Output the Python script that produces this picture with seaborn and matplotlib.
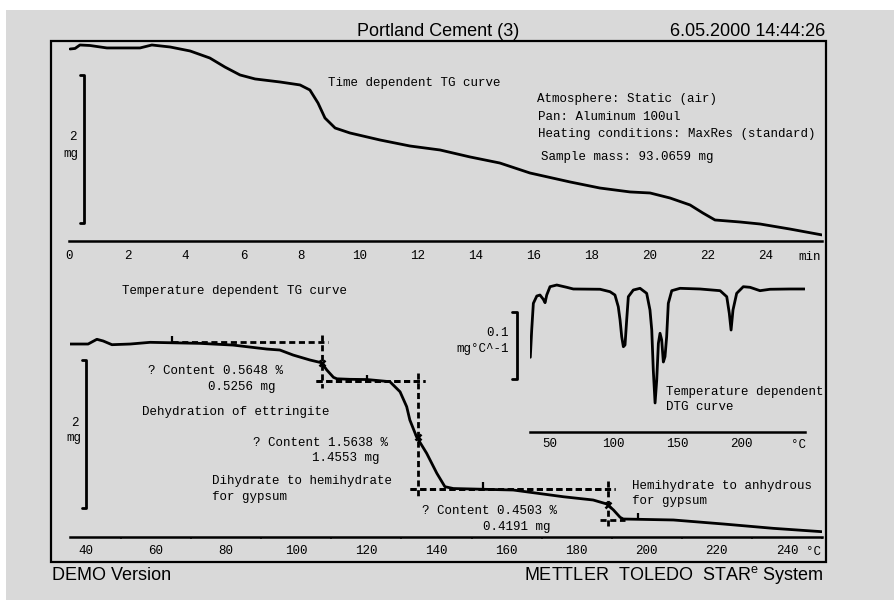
import matplotlib
matplotlib.use("Agg")
from matplotlib import pyplot as plt
from matplotlib.patches import Rectangle
from matplotlib.ticker import MultipleLocator
import seaborn as sns

W, H = 895, 600

# time dependent TG curve (min, mg)
time_min = [0.02, 0.19, 0.36, 0.71, 1.29, 2.43, 2.84, 3.47, 4.16, 4.84, 5.36, 5.88, 6.40,
            7.26, 7.95, 8.29, 8.57, 8.81, 9.16, 9.67, 10.71, 11.74, 12.78, 13.81, 14.84,
            15.88, 17.26, 18.29, 19.33, 20.02, 20.71, 21.40, 21.84, 22.26, 23.12, 23.81,
            24.84, 25.95]
time_mass_mg = [93.066, 93.073, 93.120, 93.113, 93.080, 93.080, 93.120, 93.093, 93.039,
                92.944, 92.822, 92.715, 92.661, 92.620, 92.580, 92.512, 92.336, 92.133,
                91.998, 91.931, 91.836, 91.755, 91.701, 91.607, 91.525, 91.390, 91.269,
                91.187, 91.134, 91.120, 91.052, 90.958, 90.850, 90.755, 90.728, 90.701,
                90.633, 90.553]

# temperature dependent TG curve (°C, mg)
temp_c = [35.4, 40.6, 43.1, 44.9, 47.4, 52.6, 58.3, 72.5, 81.9, 91.6, 95.3, 99.1, 103.9,
          107.2, 108.7, 110.6, 111.6, 115.3, 120.2, 126.7, 129.6, 131.5, 132.4, 134.3,
          137.2, 140.1, 142.4, 144.8, 161.9, 176.2, 184.7, 188.6, 190.5, 192.4, 193.3,
          207.6, 221.8, 236.1, 249.9]
temp_mass_mg = [93.066, 93.066, 93.130, 93.107, 93.057, 93.066, 93.089, 93.075, 93.052,
                92.998, 92.985, 92.917, 92.850, 92.813, 92.715, 92.616, 92.596, 92.589,
                92.586, 92.557, 92.421, 92.219, 92.039, 91.813, 91.589, 91.319, 91.138,
                91.113, 91.093, 91.002, 90.958, 90.904, 90.823, 90.724, 90.701, 90.688,
                90.634, 90.575, 90.530]

# temperature dependent DTG curve (°C, mg/°C)
dtg_temp_c = [34.5, 35.6, 36.9, 39.6, 42.1, 44.7, 46.1, 47.4, 50.0, 55.3, 63.1, 68.3, 89.3,
              97.1, 101.0, 103.6, 105.0, 106.3, 107.6, 108.9, 110.2, 111.5, 115.4, 120.7,
              125.9, 128.5, 129.9, 131.1, 132.5, 133.8, 135.1, 136.4, 137.7, 139.0, 140.3,
              141.6, 142.9, 145.6, 152.1, 167.8, 183.6, 188.8, 190.8, 192.2, 193.7, 196.6,
              201.8, 207.1, 214.9, 222.8, 238.5, 250.0]
dtg_value = [-0.105, -0.0647, -0.0252, -0.0144, -0.0129, -0.0192, -0.0243, -0.0129, -0.0006,
             0.0019, -0.0015, -0.0040, -0.0044, -0.0080, -0.0129, -0.0302, -0.0499, -0.0746,
             -0.0894, -0.0868, -0.0499, -0.0154, -0.0055, -0.0030, -0.0104, -0.0351, -0.0647,
             -0.1238, -0.1726, -0.1386, -0.0843, -0.0695, -0.0794, -0.1120, -0.1041, -0.0746,
             -0.0252, -0.0065, -0.0030, -0.0040, -0.0065, -0.0154, -0.0399, -0.0647, -0.0351,
             -0.0104, -0.0006, -0.0015, -0.0065, -0.0044, -0.0040, -0.0040]

# step evaluations
step_temp_c = [107.2, 134.6, 188.8]
step_upper_mg = [93.089, 92.570, 91.113]
step_lower_mg = [92.570, 91.113, 90.688]
step_upper_span = [(64.5, 109.0), (105.6, 136.7), (132.4, 190.9)]
step_lower_span = [(105.6, 136.7), (132.4, 190.9), (186.6, 193.8)]
step_inflect_mg = [92.809, 91.809, 90.890]
limit_temp_c = [64.4, 120.1, 153.2, 197.5]
limit_mass_mg = [93.134, 92.609, 91.161, 90.738]


def rect(x0, y0, x1, y1):
    return [x0 / W, 1 - y1 / H, (x1 - x0) / W, (y1 - y0) / H]


def label(x, y, s, **kw):
    kw.setdefault("fontsize", 9)
    kw.setdefault("va", "center")
    kw.setdefault("ha", "left")
    fig.text(x / W, 1 - y / H, s, color="black", **kw)


def style_axis(ax, pad, ticklen):
    ax.set_facecolor("none")
    sns.despine(ax=ax, left=True)
    ax.spines["bottom"].set_linewidth(1.8)
    ax.spines["bottom"].set_color("black")
    ax.set_yticks([])
    ax.set_xlabel("")
    ax.set_ylabel("")
    ax.tick_params(axis="x", which="major", direction="out", length=ticklen, width=1.6,
                   pad=pad, labelsize=9, colors="black")


sns.set_style("white")
plt.rcParams["font.family"] = ["Liberation Mono", "DejaVu Sans Mono"]

fig = plt.figure(figsize=(W / 100, H / 100), dpi=100, facecolor="white")
fig.patches.append(Rectangle((6 / W, 0), 1 - 6 / W, 1 - 10 / H, transform=fig.transFigure,
                             facecolor="#d9d9d9", edgecolor="none", zorder=-10))
fig.patches.append(Rectangle((51 / W, 1 - 562 / H), (826 - 51) / W, (562 - 41) / H,
                             transform=fig.transFigure, fill=False, edgecolor="black",
                             linewidth=1.6, zorder=5))

# ---- time dependent TG ----
ax_time = fig.add_axes(rect(69.5, 41, 822, 241))
sns.lineplot(x=time_min, y=time_mass_mg, ax=ax_time, color="black", linewidth=2.0)
ax_time.set_xlim(0, 25.95)
ax_time.set_ylim(90.471, 93.174)
style_axis(ax_time, pad=3.5, ticklen=3)
ax_time.set_xticks(range(0, 25, 2))
ax_time.plot([0.36, 0.5, 0.5, 0.36], [92.715, 92.715, 90.715, 90.715], color="black",
             linewidth=2.0, clip_on=False)

# ---- temperature dependent TG ----
ax_temp = fig.add_axes(rect(69.9, 300, 822, 537))
sns.lineplot(x=temp_c, y=temp_mass_mg, ax=ax_temp, color="black", linewidth=2.0)
for i, t in enumerate(step_temp_c):
    ax_temp.plot(step_upper_span[i], [step_upper_mg[i]] * 2, color="black", linewidth=2.0,
                 linestyle=(0, (2.2, 1.3)))
    ax_temp.plot(step_lower_span[i], [step_lower_mg[i]] * 2, color="black", linewidth=2.0,
                 linestyle=(0, (2.2, 1.3)))
    ax_temp.plot([t, t], [step_upper_mg[i] + 0.1, step_lower_mg[i] - 0.1], color="black",
                 linewidth=2.0, linestyle=(0, (2.2, 1.3)))
ax_temp.plot(step_temp_c, step_inflect_mg, linestyle="none", marker="x", markersize=4,
             markeredgewidth=1.8, color="black")
ax_temp.plot(limit_temp_c, limit_mass_mg, linestyle="none", marker="|", markersize=5,
             markeredgewidth=1.6, color="black")
ax_temp.set_xlim(35.4, 250)
ax_temp.set_ylim(90.458, 93.661)
style_axis(ax_temp, pad=3, ticklen=3)
ax_temp.set_xticks(range(40, 241, 20))
ax_temp.xaxis.set_minor_locator(MultipleLocator(10))
ax_temp.tick_params(axis="x", which="minor", direction="out", length=1.5, width=1.2,
                    bottom=True)
ax_temp.plot([38.9, 40.1, 40.1, 38.9], [92.85, 92.85, 90.85, 90.85], color="black",
             linewidth=2.0, clip_on=False)

# ---- DTG inset ----
ax_dtg = fig.add_axes(rect(530.3, 275, 805.3, 431.7))
sns.lineplot(x=dtg_temp_c, y=dtg_value, ax=ax_dtg, color="black", linewidth=2.0)
ax_dtg.set_xlim(34.5, 250.5)
ax_dtg.set_ylim(-0.2151, 0.0167)
style_axis(ax_dtg, pad=4.5, ticklen=0)
ax_dtg.set_xticks([50, 100, 150, 200])
ax_dtg.plot([20.2, 23.85, 23.85, 20.2], [-0.0376, -0.0376, -0.1376, -0.1376],
            color="black", linewidth=2.0, clip_on=False)

# ---- texts ----
sans = "Liberation Sans"
label(438, 36, "Portland Cement (3)", family=sans, fontsize=13, ha="center", va="baseline")
label(825, 36, "6.05.2000 14:44:26", family=sans, fontsize=13, ha="right", va="baseline")
label(51.7, 580, "DEMO Version", family=sans, fontsize=13, va="baseline")
label(824, 580, "METTLER  TOLEDO  STAR$^\\mathregular{e}$ System", family=sans, fontsize=13,
      ha="right", va="baseline")

label(328, 83, "Time dependent TG curve")
label(537, 99, "Atmosphere: Static (air)")
label(538, 117, "Pan: Aluminum 100ul")
label(538, 134, "Heating conditions: MaxRes (standard)")
label(541, 157, "Sample mass: 93.0659 mg")
label(73, 137, "2", ha="center")
label(71, 154, "mg", ha="center")
label(809.5, 257, "min", ha="center")

label(122, 291, "Temperature dependent TG curve")
label(148, 371, "? Content 0.5648 %")
label(208, 387, "0.5256 mg")
label(142, 412, "Dehydration of ettringite")
label(253, 443, "? Content 1.5638 %")
label(312, 458, "1.4553 mg")
label(212, 481, "Dihydrate to hemihydrate")
label(212, 497, "for gypsum")
label(421.7, 511, "? Content 0.4503 %")
label(482.7, 527, "0.4191 mg")
label(631.7, 486, "Hemihydrate to anhydrous")
label(631.7, 501, "for gypsum")
label(666, 392, "Temperature dependent")
label(666, 407, "DTG curve")
label(75, 423, "2", ha="center")
label(73.5, 438, "mg", ha="center")
label(509, 333, "0.1", ha="right")
label(509, 349, "mg°C^-1", ha="right")
label(814, 552, "°C", ha="center")
label(798.7, 445, "°C", ha="center")

fig.savefig("out.png", dpi=100, facecolor=fig.get_facecolor())
